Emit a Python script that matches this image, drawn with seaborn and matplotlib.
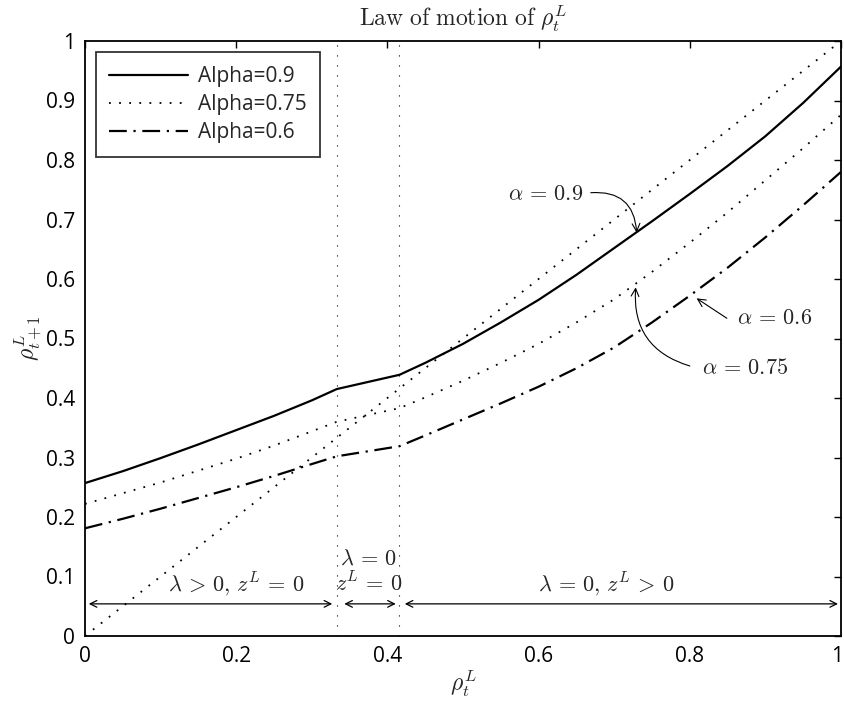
import matplotlib
matplotlib.use("Agg")
import matplotlib.pyplot as plt
import matplotlib.transforms as mtransforms
import seaborn as sns
import pandas as pd

# values
rho_t = [0.0, 0.05, 0.1, 0.15, 0.2, 0.25, 0.3, 0.333, 0.416, 0.45, 0.5, 0.55,
         0.6, 0.65, 0.7, 0.75, 0.8, 0.85, 0.9, 0.95, 1.0]
alpha_09 = [0.257, 0.277, 0.299, 0.322, 0.346, 0.370, 0.396, 0.415, 0.439, 0.459, 0.491, 0.527,
            0.565, 0.607, 0.652, 0.697, 0.743, 0.790, 0.840, 0.896, 0.957]
alpha_075 = [0.222, 0.240, 0.258, 0.278, 0.298, 0.320, 0.344, 0.360, 0.383, 0.401, 0.429, 0.459,
             0.491, 0.527, 0.566, 0.612, 0.661, 0.712, 0.766, 0.820, 0.876]
alpha_06 = [0.181, 0.197, 0.214, 0.232, 0.250, 0.269, 0.289, 0.302, 0.319, 0.337, 0.364, 0.391,
            0.419, 0.450, 0.485, 0.527, 0.572, 0.619, 0.670, 0.724, 0.780]
diag_x = [0.0, 1.0]
diag_y = [0.0, 1.0]
kinks = [0.333, 0.416]

ticks = [0, 0.1, 0.2, 0.3, 0.4, 0.5, 0.6, 0.7, 0.8, 0.9, 1]
x_ticks = [0, 0.2, 0.4, 0.6, 0.8, 1]
y_tick_labels = ["0", "0.1", "0.2", "0.3", "0.4", "0.5", "0.6", "0.7", "0.8", "0.9", "1"]
x_tick_labels = ["0", "0.2", "0.4", "0.6", "0.8", "1"]

region_spans = [(0.005, 0.327), (0.343, 0.411), (0.423, 0.996)]
region_labels = [r"$\lambda\,>\,0,\,z^L\,=\,0$", r"$z^L\,=\,0$", r"$\lambda\,=\,0,\,z^L\,>\,0$"]
region_x = [0.2, 0.375, 0.69]

sns.set_theme(style="white")
plt.rcParams["font.family"] = ["Open Sans", "DejaVu Sans"]
plt.rcParams["mathtext.fontset"] = "cm"

fig = plt.figure(figsize=(8.44, 7.11), dpi=100)
ax = fig.add_axes([85 / 844, 1 - 636 / 711, 756 / 844, 595 / 711])

df = pd.DataFrame({"rho": rho_t, "a09": alpha_09, "a075": alpha_075, "a06": alpha_06})

sns.lineplot(data=df, x="rho", y="a09", ax=ax, color="black", lw=1.6,
             linestyle="-", label="Alpha=0.9")
sns.lineplot(data=df, x="rho", y="a075", ax=ax, color="black", lw=1.3,
             linestyle=(0, (1, 4.6)), label="Alpha=0.75")
sns.lineplot(data=df, x="rho", y="a06", ax=ax, color="black", lw=1.6,
             linestyle=(0, (8, 3, 1, 3)), label="Alpha=0.6")
sns.lineplot(x=diag_x, y=diag_y, ax=ax, color="black", lw=1.3,
             linestyle=(0, (1, 4.6)), legend=False)
for k in kinks:
    ax.axvline(k, color="black", lw=0.8, linestyle=(0, (1, 8)))

ax.set_xlim(0, 1)
ax.set_ylim(0, 1)
ax.set_xticks(x_ticks)
ax.set_xticklabels(x_tick_labels)
ax.set_yticks(ticks)
ax.set_yticklabels(y_tick_labels)
ax.tick_params(direction="in", length=5, width=1, labelsize=15, colors="black",
               top=True, right=True, pad=7)
for s in ax.spines.values():
    s.set_color("black")
    s.set_linewidth(1.3)
# keep the last x label inside the canvas
last = ax.get_xticklabels()[-1]
last.set_transform(last.get_transform() + mtransforms.ScaledTranslation(-4 / 100, 0, fig.dpi_scale_trans))

ax.set_title(r"$\mathrm{Law\ of\ motion\ of\ }\rho_t^L$", fontsize=17, pad=11)
ax.set_xlabel(r"$\rho_t^L$", fontsize=17, labelpad=1)
ax.set_ylabel(r"$\rho_{t+1}^L$", fontsize=17, labelpad=1)

leg = ax.legend(loc="upper left", bbox_to_anchor=(0.014, 0.981), borderaxespad=0,
                fontsize=15, handlelength=3.8, handletextpad=0.45,
                labelspacing=0.35, borderpad=0.65, fancybox=False)
leg.get_frame().set_edgecolor("black")
leg.get_frame().set_linewidth(1.3)

# region arrows and labels
for (a, b), lab, cx in zip(region_spans, region_labels, region_x):
    ax.annotate("", xy=(b, 0.054), xytext=(a, 0.054),
                arrowprops=dict(arrowstyle="<->", color="black", lw=0.9,
                                mutation_scale=12, shrinkA=0, shrinkB=0))
    ax.text(cx, 0.075, lab, ha="center", va="baseline", fontsize=16)
ax.text(0.375, 0.1205, r"$\lambda\,=\,0$", ha="center", va="baseline", fontsize=16)

# curve annotations
ax.text(0.659, 0.732, r"$\alpha\,=\,0.9$", ha="right", va="baseline", fontsize=16)
ax.annotate("", xy=(0.7297, 0.678), xytext=(0.669, 0.745),
            arrowprops=dict(arrowstyle="->", color="black", lw=0.8, mutation_scale=14,
                            shrinkA=0, shrinkB=0, connectionstyle="arc3,rad=-0.5"))
ax.text(0.862, 0.524, r"$\alpha\,=\,0.6$", ha="left", va="baseline", fontsize=16)
ax.annotate("", xy=(0.809, 0.5675), xytext=(0.849, 0.534),
            arrowprops=dict(arrowstyle="->", color="black", lw=0.8, mutation_scale=14,
                            shrinkA=0, shrinkB=0))
ax.text(0.816, 0.440, r"$\alpha\,=\,0.75$", ha="left", va="baseline", fontsize=16)
ax.annotate("", xy=(0.7284, 0.586), xytext=(0.800, 0.4538),
            arrowprops=dict(arrowstyle="->", color="black", lw=0.8, mutation_scale=14,
                            shrinkA=0, shrinkB=0, connectionstyle="arc3,rad=-0.4"))

fig.savefig("out.png", dpi=100)
